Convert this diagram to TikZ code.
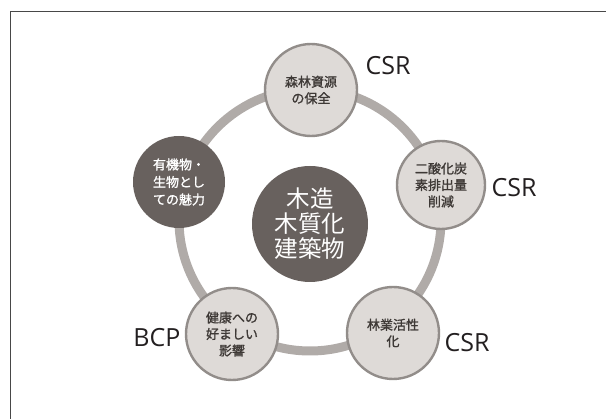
\documentclass[tikz,border=0pt]{standalone}
\usepackage{fontspec}
\setmainfont{Open Sans}
\newfontfamily\jp{Noto Sans CJK JP}
\newfontfamily\jpm{Noto Sans CJK JP}[FakeBold=1.3]
\definecolor{ringgray}{RGB}{176,171,168}
\definecolor{lightfill}{RGB}{222,218,215}
\definecolor{lightedge}{RGB}{146,141,138}
\definecolor{darkfill}{RGB}{104,97,94}
\definecolor{lighttext}{RGB}{62,57,54}
\definecolor{labeltext}{RGB}{35,31,32}
\definecolor{framegray}{RGB}{72,72,72}
\begin{document}
\begin{tikzpicture}[x=1pt,y=-1pt,
  lightnode/.style={circle,fill=lightfill,draw=lightedge,line width=2.4pt,
    minimum size=#1,inner sep=0pt,align=center,text=lighttext,
    font=\jpm\fontsize{13}{16.5}\selectfont},
  darknode/.style={circle,fill=darkfill,minimum size=#1,inner sep=0pt,
    align=center,text=white,font=\jpm\fontsize{13}{17.5}\selectfont},
  hubnode/.style={circle,fill=darkfill,minimum size=116pt,inner sep=0pt,
    align=center,text=white,font=\jp\fontsize{23.5}{25}\selectfont},
  tag/.style={text=labeltext,font=\fontsize{25}{25}\selectfont,inner sep=0pt}]
\useasboundingbox (0,0) rectangle (606,419);
% frame
\coordinate (ftr) at (606,11.5);
\coordinate (ftl) at (10.5,11.5);
\coordinate (fbl) at (10.5,419);
\draw[framegray,line width=1.3pt] (ftr) -- (ftl) -- (fbl);
% ring
\coordinate (rc) at (310,220);
\draw[ringgray,line width=9pt] (rc) circle[radius=131pt];
% hub
\node[hubnode] (hub) at (310,224) {木造\\木質化\\建築物};
% satellites
\node[lightnode=92pt] (forest) at (311,90) {森林資源\\の保全};
\node[lightnode=88pt] (co2) at (441,185) {二酸化炭\\素排出量\\削減};
\node[lightnode=92pt] (industry) at (393,333) {林業活性\\化};
\node[lightnode=92pt] (health) at (232,334) {健康への\\好ましい\\影響};
\node[darknode=92pt] (organic) at (179,182) {有機物・\\生物とし\\ての魅力};
% labels
\node[tag] (csr1) at (388,66) {CSR};
\node[tag] (csr2) at (514,188) {CSR};
\node[tag] (csr3) at (467,343) {CSR};
\node[tag] (bcp) at (157,338) {BCP};
\end{tikzpicture}
\end{document}
